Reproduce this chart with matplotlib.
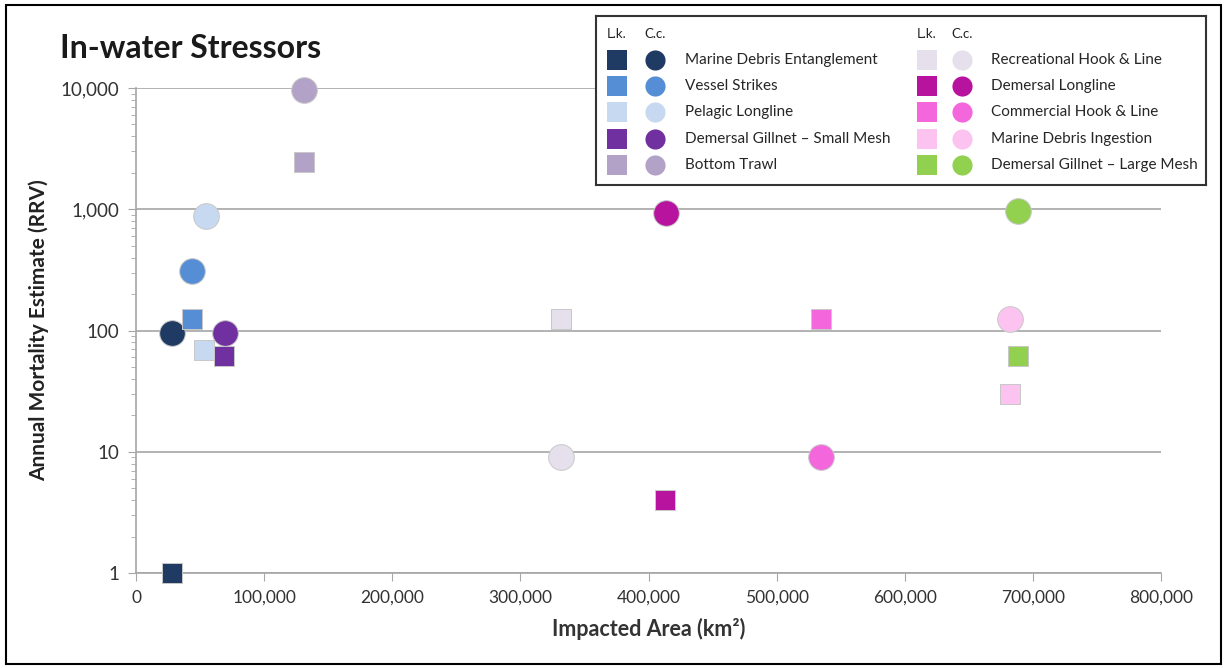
import matplotlib
matplotlib.use("Agg")
import matplotlib.pyplot as plt
from matplotlib.patches import Rectangle
from matplotlib.ticker import FuncFormatter, LogLocator

plt.rcParams['font.family'] = ['Lato', 'DejaVu Sans']

# Data: stressors, L.k. (squares) and C.c. (circles)
stressors = ["Marine Debris Entanglement", "Vessel Strikes", "Pelagic Longline",
             "Demersal Gillnet \u2013 Small Mesh", "Bottom Trawl",
             "Recreational Hook & Line", "Demersal Longline", "Commercial Hook & Line",
             "Marine Debris Ingestion", "Demersal Gillnet \u2013 Large Mesh"]
colors = ["#1f3a63", "#558ed5", "#c6d9f1", "#7030a0", "#b3a2c7",
          "#e6e0ec", "#b8139e", "#f466dc", "#fcc3f0", "#92d050"]
lk_area = [28000, 43500, 53000, 69000, 131000, 332000, 413000, 535000, 682000, 688000]
lk_mort = [1, 124, 69, 62, 2450, 124, 4, 124, 30, 62]
cc_area = [28000, 43500, 54500, 69500, 131000, 332000, 414000, 535000, 682000, 688000]
cc_mort = [96, 310, 880, 96, 9600, 9, 930, 9, 124, 960]
x_ticks = [0, 100000, 200000, 300000, 400000, 500000, 600000, 700000, 800000]

fig = plt.figure(figsize=(12.25, 6.68), dpi=100)
ax = fig.add_axes([136/1225, 95/668, 1025/1225, 485/668])

for i in range(len(stressors)):
    ax.scatter(lk_area[i], lk_mort[i], marker='s', s=14.5**2, color=colors[i],
               edgecolors='#c8c8c8', linewidths=0.7, zorder=3, clip_on=False)
    ax.scatter(cc_area[i], cc_mort[i], marker='o', s=18.5**2, color=colors[i],
               edgecolors='#c8c8c8', linewidths=0.7, zorder=3, clip_on=False)

ax.set_yscale('log')
ax.set_ylim(1, 10000)
ax.set_xlim(0, 800000)
ax.set_xticks(x_ticks)
ax.xaxis.set_major_formatter(FuncFormatter(lambda v, p: f"{int(v):,}"))
ax.yaxis.set_major_locator(LogLocator(base=10, numticks=10))
ax.yaxis.set_minor_locator(LogLocator(base=10, subs=range(2, 10), numticks=50))
ax.yaxis.set_major_formatter(FuncFormatter(lambda v, p: f"{int(round(v)):,}"))
ax.yaxis.set_minor_formatter(FuncFormatter(lambda v, p: ""))

ax.grid(axis='y', which='major', color='#a6a6a6', linewidth=1.2, zorder=0)
for s in ['top', 'right']:
    ax.spines[s].set_visible(False)
for s in ['left', 'bottom']:
    ax.spines[s].set_color('#a6a6a6')
    ax.spines[s].set_linewidth(1.2)
ax.tick_params(axis='both', which='major', length=6, color='#a6a6a6', labelcolor='#333333')
ax.tick_params(axis='y', which='major', labelsize=13.5, pad=6)
ax.tick_params(axis='x', which='major', labelsize=12.5, pad=6)
ax.tick_params(axis='y', which='minor', length=3.5, color='#a6a6a6')

ax.set_xlabel("Impacted Area (km\u00b2)", fontsize=15.5, fontweight='bold', color='#333333',
              labelpad=9)
ax.set_ylabel("Annual Mortality Estimate (RRV)", fontsize=15, fontweight='bold',
              color='#222222', labelpad=8)
fig.text(60/1225, 1 - 48/668, "In-water Stressors", fontsize=23, fontweight='bold',
         va='center', ha='left', color='#1a1a1a')

# Legend box
lg = fig.add_axes([596/1225, 1 - 185/668, 610/1225, 169/668])
lg.set_xlim(0, 610)
lg.set_ylim(169, 0)
lg.set_xticks([])
lg.set_yticks([])
for s in lg.spines.values():
    s.set_color('#333333')
    s.set_linewidth(1.5)

col_x = [(21, 59, 89), (331, 366, 395)]
row_y = [44, 70, 96, 123, 149]
for c, (sx, cx, tx) in enumerate(col_x):
    lg.text(sx, 18, "L.k.", fontsize=9.5, ha='center', va='center', color='#222222')
    lg.text(cx, 18, "C.c.", fontsize=9.5, ha='center', va='center', color='#222222')
    for r in range(5):
        i = c * 5 + r
        lg.scatter(sx, row_y[r], marker='s', s=14**2, color=colors[i], linewidths=0)
        lg.scatter(cx, row_y[r], marker='o', s=14.5**2, color=colors[i], linewidths=0)
        lg.text(tx, row_y[r], stressors[i], fontsize=11, ha='left', va='center',
                color='#262626')

# Outer frame
fig.patches.append(Rectangle((6/1225, 4/668), 1215/1225, 659/668, transform=fig.transFigure,
                             fill=False, edgecolor='black', linewidth=1.5))

fig.savefig("out.png", dpi=100)
